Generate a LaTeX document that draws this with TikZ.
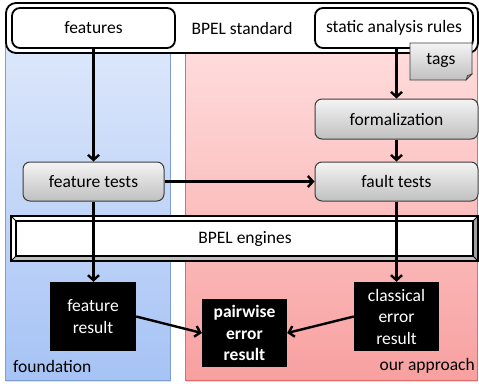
\documentclass[tikz,border=0pt]{standalone}
\usepackage{fontspec}
\setmainfont{Carlito}
\usetikzlibrary{arrows.meta,shadings,calc}
\definecolor{bluetop}{HTML}{DCE7FB}
\definecolor{bluebot}{HTML}{A6C3F5}
\definecolor{blueedge}{HTML}{7F9ED2}
\definecolor{redtop}{HTML}{FFDDDD}
\definecolor{redbot}{HTML}{F8A0A0}
\definecolor{rededge}{HTML}{DF6B6B}
\definecolor{graytop}{HTML}{F4F4F4}
\definecolor{graybot}{HTML}{C0C0C0}
\definecolor{grayedge}{HTML}{3C3C3C}
\definecolor{bevelbot}{HTML}{BFBFBF}
\definecolor{bevelright}{HTML}{A0A0A0}
\begin{document}
\begin{tikzpicture}[x=1pt,y=-1pt,
  font=\fontsize{17.5}{21.5}\selectfont,
  whitebox/.style={draw=black, line width=1.8pt, fill=white, rounded corners=8pt, inner sep=0pt},
  graybox/.style={draw=grayedge, line width=1pt, top color=graytop, bottom color=graybot, rounded corners=7pt, inner sep=0pt},
  blackbox/.style={fill=black, text=white, align=center, inner sep=0pt},
  flow/.style={line width=2.4pt, -{Straight Barb[length=5pt,width=11pt]}},
  plain/.style={inner sep=0pt}
]
\useasboundingbox (0,0) rectangle (479,383);
% panels
\fill[black!12] (6,50) rectangle (171,382);
\fill[black!12] (186,50) rectangle (478,382);
\draw[draw=blueedge, line width=0.8pt, top color=bluetop, bottom color=bluebot] (5,45) rectangle (170,380);
\draw[draw=rededge, line width=0.8pt, top color=redtop, bottom color=redbot] (185,45) rectangle (477,380);
% top standard box
\node[whitebox, rounded corners=10pt, minimum width=472pt, minimum height=50pt] (std) at (242,28) {BPEL standard};
\node[whitebox, minimum width=163pt, minimum height=40pt] (feat) at (93.5,28) {features};
\node[whitebox, minimum width=158pt, minimum height=40pt] (sar) at (394,28) {static analysis rules};
% tags note with folded corner
\coordinate (tnw) at (410,43);
\coordinate (tse) at (472,80);
\draw[draw=grayedge, line width=0.8pt, top color=graytop, bottom color=graybot]
  (tnw) -- (tnw -| tse) -- ($(tse)+(0,-6)$) -- ($(tse)+(-6,0)$) -- (tnw |- tse) -- cycle;
\draw[draw=grayedge, line width=0.6pt, fill=black!45]
  ($(tse)+(0,-6)$) -- ($(tse)+(-6,0)$) -- ($(tse)+(-4.5,-4.5)$) -- cycle;
\node[plain] (tags) at (441,60) {tags};
% gray process boxes
\node[graybox, minimum width=163pt, minimum height=40pt] (form) at (396.5,119) {formalization};
\node[graybox, minimum width=141pt, minimum height=39pt] (ftests) at (93.5,181.5) {feature tests};
\node[graybox, minimum width=163pt, minimum height=39pt] (faultt) at (396.5,181.5) {fault tests};
% BPEL engines bevel bar
\fill[white] (11,216) rectangle (478,261);
\fill[bevelbot] (11,261) -- (478,261) -- (473,256) -- (16,256) -- cycle;
\fill[bevelright] (478,216) -- (478,261) -- (473,256) -- (473,221) -- cycle;
\draw[line width=0.8pt] (11,216) -- (16,221) (478,216) -- (473,221) (11,261) -- (16,256) (478,261) -- (473,256);
\draw[line width=1.6pt] (16,221) rectangle (473,256);
\draw[line width=1.6pt] (11,216) rectangle (478,261);
\node[plain] (eng) at (245,239) {BPEL engines};
% result boxes
\node[blackbox, minimum width=86pt, minimum height=69pt] (fres) at (93,316.5) {feature\\result};
\node[blackbox, font=\fontsize{17.5}{21.5}\selectfont\bfseries, minimum width=85pt, minimum height=68pt] (pres) at (244.5,333) {pairwise\\error\\result};
\node[blackbox, minimum width=85pt, minimum height=69pt] (cres) at (396.5,316.5) {classical\\error\\result};
% panel labels
\node[plain, anchor=west] (fnd) at (13,366) {foundation};
\node[plain, anchor=east] (our) at (475,366) {our approach};
% connectors
\draw[flow] (feat.south) -- (ftests.north);
\draw[flow] (ftests.south) -- (ftests.south |- fres.north);
\draw[flow] (sar.south -| form.north) -- (form.north);
\draw[flow] (form.south) -- (faultt.north);
\draw[flow] (faultt.south) -- (faultt.south |- cres.north);
\draw[flow] (ftests.east) -- (faultt.west);
\draw[flow] (fres.east) -- (pres.west);
\draw[flow] (cres.west) -- (pres.east);
\end{tikzpicture}
\end{document}
